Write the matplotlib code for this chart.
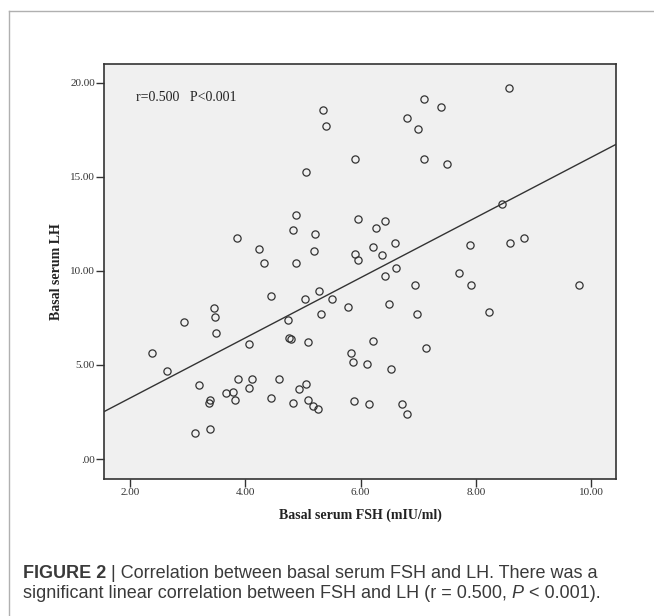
import numpy as np
import matplotlib.pyplot as plt
from matplotlib.lines import Line2D

# basal serum FSH (x) and LH (y)
fsh = [5.35, 5.40, 5.06, 4.88, 4.83, 5.21, 5.19, 3.86, 4.24, 4.33, 4.88,
       4.44, 5.03, 5.28, 5.51, 4.74, 5.32, 4.76, 4.79, 5.08, 4.06, 3.45,
       3.48, 3.50, 2.93, 2.39, 2.64, 3.20, 3.88, 4.12, 4.59, 4.07, 3.66,
       3.79, 3.82, 3.37, 3.38, 4.44, 5.06, 4.93, 5.08, 5.17, 5.27, 4.82,
       3.12, 3.38,
       8.57, 7.10, 7.39, 6.80, 7.00, 5.90, 7.10, 7.50, 8.46, 5.95, 6.43,
       6.27, 6.22, 6.59, 6.37, 7.89, 8.60, 8.83, 5.91, 5.96,
       6.62, 6.42, 6.95, 7.70, 7.92, 9.78, 5.78, 6.49, 6.97, 8.22, 6.21,
       7.13, 5.83, 5.86, 6.11, 6.53, 5.89, 6.14, 6.71, 6.81]
lh = [18.53, 17.70, 15.25, 12.96, 12.18, 11.97, 11.08, 11.77, 11.17, 10.44, 10.41,
      8.65, 8.53, 8.95, 8.51, 7.41, 7.73, 6.42, 6.37, 6.21, 6.13, 8.01,
      7.57, 6.72, 7.29, 5.66, 4.70, 3.95, 4.26, 4.24, 4.26, 3.78, 3.51,
      3.55, 3.12, 2.96, 3.12, 3.26, 3.99, 3.71, 3.12, 2.84, 2.68, 2.96,
      1.40, 1.58,
      19.73, 19.13, 18.72, 18.14, 17.55, 15.96, 15.96, 15.66, 13.56, 12.77, 12.68,
      12.27, 11.28, 11.47, 10.87, 11.38, 11.47, 11.77, 10.89, 10.60,
      10.18, 9.75, 9.27, 9.91, 9.27, 9.26, 8.07, 8.23, 7.71, 7.84, 6.26,
      5.92, 5.66, 5.16, 5.07, 4.79, 3.10, 2.94, 2.93, 2.39]

# fit line as drawn in the figure (LH = a + b * FSH)
fit_a = 0.04
fit_b = 1.60

xticks = [2, 4, 6, 8, 10]
yticks = [0, 5, 10, 15, 20]
xlabels = ['2.00', '4.00', '6.00', '8.00', '10.00']
ylabels = ['.00', '5.00', '10.00', '15.00', '20.00']

fig = plt.figure(figsize=(6.54, 6.16), dpi=100)

# thin grey frame of the figure panel (top and left edges)
fig.add_artist(Line2D([9/654, 1.0], [1 - 11/616, 1 - 11/616], color='#b0b0b0', lw=1.0))
fig.add_artist(Line2D([9/654, 9/654], [0.0, 1 - 11/616], color='#b0b0b0', lw=1.0))

ax = fig.add_axes([104/654, (616-479)/616, (616-104)/654, (479-64)/616])
ax.set_facecolor('#f0f0f0')

ax.plot(fsh, lh, 'o', ms=5.2, mfc='none', mec='#333333', mew=0.9)

xlim = (1.55, 10.43)
xx = np.array(xlim)
ax.plot(xx, fit_a + fit_b*xx, color='#333333', lw=1.0)

ax.set_xlim(*xlim)
ax.set_ylim(-1.06, 21.0)
ax.set_xticks(xticks)
ax.set_xticklabels(xlabels)
ax.set_yticks(yticks)
ax.set_yticklabels(ylabels)

for s in ax.spines.values():
    s.set_color('#333333')
    s.set_linewidth(1.2)
ax.tick_params(direction='out', length=5.5, width=1, color='#333333',
               labelsize=8, labelcolor='#333333', pad=1)
for lab in ax.get_xticklabels() + ax.get_yticklabels():
    lab.set_family('Liberation Serif')

ax.set_xlabel('Basal serum FSH (mIU/ml)', family='Liberation Serif',
              fontweight='bold', fontsize=10, color='#222222', labelpad=8)
ax.set_ylabel('Basal serum LH', family='Liberation Serif',
              fontweight='bold', fontsize=10, color='#222222', labelpad=5)

ax.text(2.1, 19.2, 'r=0.500   P<0.001', family='Liberation Serif',
        fontsize=10, color='#222222', va='center')

# caption
cap = dict(family='Liberation Sans', fontsize=13, color='#3a3a3a')
t1 = fig.text(23/654, 1 - 578/616, 'FIGURE 2', fontweight='bold', va='baseline', **cap)
ax.annotate(' | Correlation between basal serum FSH and LH. There was a',
            xy=(1, 0), xycoords=t1, va='bottom', ha='left', **cap)
t2 = fig.text(23/654, 1 - 598/616,
              'significant linear correlation between FSH and LH (r = 0.500, ',
              va='baseline', **cap)
t3 = ax.annotate('P', xy=(1, 0), xycoords=t2, va='bottom', ha='left',
                 style='italic', **cap)
ax.annotate(' < 0.001).', xy=(1, 0), xycoords=t3, va='bottom', ha='left', **cap)

fig.savefig('out.png', dpi=100)
